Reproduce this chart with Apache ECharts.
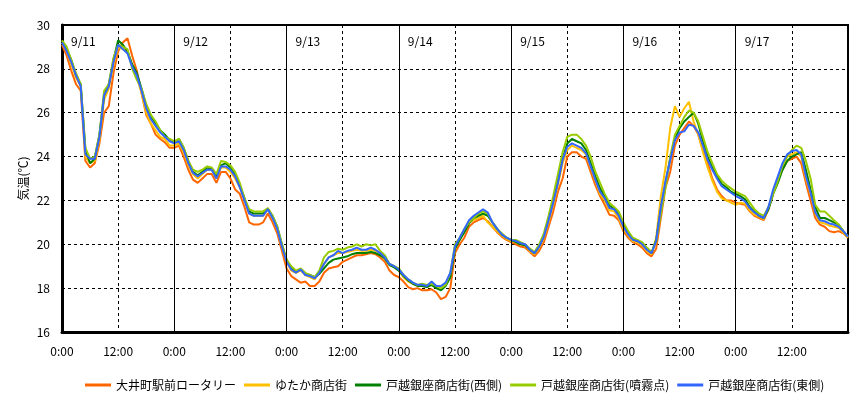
<!DOCTYPE html>
<html>
<head>
<meta charset="utf-8">
<script src="https://cdn.jsdelivr.net/npm/echarts@6/dist/echarts.min.js"></script>
<style>
  html, body { margin: 0; padding: 0; background: #fff; }
  #chart { width: 865px; height: 397px; }
</style>
</head>
<body>
<div id="chart"></div>
<script>
// hourly readings, 9/11 0:00 .. 9/18 0:00
const stepHours = 1;
const dayLabels = ['9/11', '9/12', '9/13', '9/14', '9/15', '9/16', '9/17'];
const seriesNames = ['大井町駅前ロータリー', 'ゆたか商店街', '戸越銀座商店街(西側)', '戸越銀座商店街(噴霧点)', '戸越銀座商店街(東側)'];
const seriesColors = ['#FF6600', '#FFC000', '#008000', '#99CC00', '#3366FF'];

const ooimachi = [
    29.1, 28.6, 27.9, 27.3, 27.0, 23.8, 23.5, 23.7, 24.6, 26.0, 26.3, 27.8, 28.8, 29.2, 29.4, 28.6, 27.9, 26.9, 25.9, 25.5, 25.0, 24.8, 24.65, 24.4,
    24.4, 24.5, 24.0, 23.4, 22.95, 22.8, 23.0, 23.2, 23.2, 22.8, 23.3, 23.3, 23.0, 22.5, 22.3, 21.7, 21.0, 20.9, 20.9, 21.0, 21.4, 21.0, 20.5, 19.7,
    18.9, 18.55, 18.4, 18.25, 18.3, 18.1, 18.1, 18.3, 18.7, 18.9, 18.95, 19.0, 19.2, 19.3, 19.4, 19.5, 19.5, 19.55, 19.6, 19.55, 19.4, 19.2, 18.8, 18.6,
    18.5, 18.3, 18.05, 17.95, 18.0, 17.9, 17.9, 17.95, 17.8, 17.5, 17.6, 18.0, 19.6, 20.0, 20.3, 20.8, 21.0, 21.1, 21.2, 21.05, 20.8, 20.55, 20.35, 20.2,
    20.1, 20.0, 19.9, 19.85, 19.65, 19.45, 19.7, 20.1, 20.8, 21.5, 22.4, 23.0, 24.0, 24.2, 24.2, 24.0, 23.9, 23.3, 22.7, 22.2, 21.8, 21.35, 21.3, 21.1,
    20.6, 20.3, 20.1, 20.0, 19.85, 19.6, 19.45, 19.8, 21.2, 22.6, 23.3, 24.5, 25.0, 25.3, 25.6, 25.4, 25.0, 24.3, 23.7, 23.0, 22.5, 22.2, 22.0, 22.0,
    21.9, 21.85, 21.8, 21.5, 21.3, 21.2, 21.1, 21.6, 22.3, 23.0, 23.4, 23.8, 23.9, 24.0, 23.7, 22.8, 22.0, 21.2, 20.9, 20.8, 20.6, 20.55, 20.6, 20.5,
    20.3
];
const yutaka = [
    29.2, 28.8, 28.2, 27.6, 27.2, 24.0, 23.7, 23.8, 24.8, 26.6, 27.1, 28.2, 29.0, 28.9, 28.8, 28.2, 27.6, 26.9, 26.0, 25.5, 25.2, 24.9, 24.8, 24.5,
    24.5, 24.6, 24.2, 23.6, 23.2, 23.0, 23.2, 23.4, 23.4, 23.0, 23.5, 23.5, 23.3, 23.0, 22.6, 22.0, 21.4, 21.3, 21.3, 21.3, 21.6, 21.2, 20.7, 19.9,
    19.2, 18.8, 18.7, 18.8, 18.6, 18.5, 18.4, 18.7, 19.1, 19.4, 19.5, 19.6, 19.6, 19.65, 19.7, 19.75, 19.7, 19.7, 19.75, 19.7, 19.6, 19.4, 19.1, 19.0,
    18.8, 18.5, 18.3, 18.2, 18.1, 18.1, 18.05, 18.2, 18.05, 18.0, 18.2, 18.6, 19.8, 20.2, 20.6, 21.0, 21.1, 21.2, 21.3, 21.0, 20.8, 20.6, 20.4, 20.25,
    20.15, 20.1, 20.0, 19.95, 19.7, 19.55, 19.85, 20.3, 21.0, 21.8, 22.7, 23.7, 24.3, 24.5, 24.4, 24.3, 24.1, 23.5, 22.9, 22.3, 22.0, 21.55, 21.5, 21.2,
    20.7, 20.4, 20.15, 20.1, 19.95, 19.7, 19.55, 20.3, 22.2, 23.5, 25.3, 26.3, 25.8, 26.2, 26.5, 25.6, 25.0, 24.2, 23.5, 22.9, 22.4, 22.1, 22.0, 21.9,
    21.8, 21.9, 21.85, 21.55, 21.35, 21.25, 21.15, 21.65, 22.4, 23.0, 23.6, 24.0, 24.1, 24.2, 24.0, 23.0, 22.3, 21.4, 21.0, 20.95, 20.85, 20.8, 20.75, 20.55,
    20.3
];
const togoshiWest = [
    29.3, 28.9, 28.4, 27.7, 27.3, 24.3, 23.7, 23.9, 25.0, 26.8, 27.3, 28.4, 29.3, 29.1, 28.8, 28.2, 27.8, 27.1, 26.3, 25.8, 25.5, 25.2, 25.0, 24.75,
    24.65, 24.8, 24.4, 23.8, 23.3, 23.15, 23.3, 23.5, 23.45, 23.1, 23.6, 23.7, 23.5, 23.2, 22.7, 22.1, 21.5, 21.4, 21.4, 21.4, 21.6, 21.3, 20.8, 20.0,
    19.3, 18.9, 18.75, 18.85, 18.65, 18.6, 18.5, 18.65, 18.9, 19.15, 19.3, 19.35, 19.4, 19.45, 19.55, 19.6, 19.6, 19.6, 19.65, 19.6, 19.5, 19.35, 19.05, 18.95,
    18.8, 18.55, 18.35, 18.2, 18.1, 18.1, 18.05, 18.15, 18.0, 17.9, 18.1, 18.5, 19.8, 20.2, 20.55, 20.95, 21.2, 21.3, 21.4, 21.3, 21.0, 20.7, 20.45, 20.3,
    20.2, 20.1, 20.0, 19.95, 19.75, 19.6, 19.9, 20.4, 21.2, 22.0, 22.9, 23.9, 24.6, 24.8, 24.7, 24.6, 24.3, 23.7, 23.1, 22.55, 22.2, 21.75, 21.65, 21.35,
    20.9, 20.5, 20.25, 20.15, 20.05, 19.8, 19.6, 20.2, 21.6, 22.8, 23.9, 24.8, 25.3, 25.6, 25.8, 26.0, 25.5, 24.7, 24.0, 23.5, 23.1, 22.75, 22.6, 22.4,
    22.3, 22.2, 22.05, 21.7, 21.5, 21.3, 21.2, 21.6, 22.3, 22.8, 23.4, 23.8, 24.0, 24.1, 24.2, 23.4, 22.5, 21.7, 21.2, 21.2, 21.1, 21.0, 20.9, 20.6,
    20.35
];
const togoshiMist = [
    29.3, 29.0, 28.4, 27.8, 27.3, 24.4, 23.9, 24.0, 25.0, 27.0, 27.3, 28.5, 29.1, 29.0, 28.9, 28.0, 27.5, 27.1, 26.4, 25.9, 25.6, 25.2, 24.9, 24.8,
    24.7, 24.8, 24.4, 23.8, 23.4, 23.3, 23.4, 23.55, 23.5, 23.2, 23.8, 23.75, 23.6, 23.3, 22.8, 22.1, 21.6, 21.5, 21.5, 21.5, 21.65, 21.3, 20.8, 20.0,
    19.3, 19.0, 18.8, 18.9, 18.7, 18.6, 18.5, 18.8, 19.4, 19.65, 19.7, 19.8, 19.75, 19.85, 19.9, 20.0, 19.9, 20.0, 19.95, 20.0, 19.7, 19.5, 19.1, 19.0,
    18.9, 18.6, 18.4, 18.25, 18.15, 18.2, 18.15, 18.2, 18.1, 18.0, 18.15, 18.7, 20.0, 20.3, 20.7, 21.0, 21.2, 21.4, 21.5, 21.4, 21.0, 20.7, 20.5, 20.3,
    20.2, 20.2, 20.1, 20.0, 19.8, 19.65, 20.0, 20.5, 21.3, 22.2, 23.2, 24.2, 24.9, 25.0, 25.0, 24.8, 24.5, 24.0, 23.3, 22.8, 22.3, 21.9, 21.7, 21.5,
    21.0, 20.6, 20.3, 20.2, 20.1, 19.85, 19.65, 20.1, 21.4, 22.6, 24.0, 25.0, 25.4, 25.8, 26.1, 26.0, 25.6, 24.9, 24.2, 23.7, 23.2, 22.9, 22.7, 22.55,
    22.4, 22.3, 22.2, 21.9, 21.6, 21.4, 21.3, 21.7, 22.3, 22.9, 23.6, 24.0, 24.3, 24.5, 24.4, 23.8, 23.0, 21.8, 21.5, 21.5, 21.3, 21.1, 20.9, 20.6,
    20.35
];
const togoshiEast = [
    29.2, 28.8, 28.3, 27.7, 27.2, 24.1, 23.9, 23.9, 24.9, 26.8, 27.2, 28.3, 29.1, 28.9, 28.7, 28.1, 27.7, 27.0, 26.2, 25.7, 25.4, 25.1, 24.9, 24.7,
    24.6, 24.7, 24.3, 23.7, 23.25, 23.1, 23.25, 23.4, 23.4, 23.0, 23.55, 23.55, 23.4, 23.1, 22.6, 22.0, 21.4, 21.3, 21.3, 21.3, 21.6, 21.2, 20.7, 19.9,
    19.2, 18.85, 18.7, 18.85, 18.6, 18.55, 18.45, 18.7, 19.1, 19.4, 19.5, 19.7, 19.6, 19.7, 19.75, 19.85, 19.75, 19.75, 19.85, 19.75, 19.6, 19.4, 19.1, 19.0,
    18.85, 18.6, 18.4, 18.25, 18.15, 18.15, 18.1, 18.3, 18.1, 18.1, 18.25, 18.7, 19.9, 20.3, 20.7, 21.1, 21.3, 21.45, 21.6, 21.45, 21.0, 20.7, 20.45, 20.3,
    20.2, 20.15, 20.05, 20.0, 19.75, 19.6, 19.9, 20.35, 21.1, 21.9, 22.8, 23.85, 24.45, 24.6, 24.5, 24.4, 24.15, 23.55, 22.95, 22.4, 22.1, 21.65, 21.6, 21.3,
    20.8, 20.45, 20.2, 20.15, 20.0, 19.75, 19.6, 20.15, 21.7, 22.9, 23.85, 24.75, 25.1, 25.15, 25.45, 25.4, 25.1, 24.5, 23.85, 23.4, 23.0, 22.65, 22.5, 22.35,
    22.2, 22.1, 21.95, 21.65, 21.45, 21.3, 21.2, 21.7, 22.5, 23.1, 23.7, 24.1, 24.25, 24.3, 24.1, 23.1, 22.35, 21.45, 21.1, 21.05, 20.95, 20.9, 20.8, 20.6,
    20.35
];
const allValues = [ooimachi, yutaka, togoshiWest, togoshiMist, togoshiEast];

const chart = echarts.init(document.getElementById('chart'));
const baseFont = '"Noto Sans CJK JP", "Noto Sans", sans-serif';
const totalHours = dayLabels.length * 24;

const lineSeries = allValues.map((vals, k) => ({
    name: seriesNames[k],
    type: 'line',
    data: vals.map((v, i) => [i * stepHours, v]),
    showSymbol: false,
    symbol: 'none',
    lineStyle: {width: 2, color: seriesColors[k]},
    itemStyle: {color: seriesColors[k]},
    z: 3
}));

// 日付の境界（実線）
const dayLines = {
    type: 'line',
    data: [],
    z: 1,
    silent: true,
    markLine: {
        silent: true,
        symbol: 'none',
        label: {show: false},
        lineStyle: {color: '#000', type: 'solid', width: 1},
        data: dayLabels.slice(1).map((d, i) => ({xAxis: (i + 1) * 24}))
    }
};

chart.setOption({
    animation: false,
    textStyle: {fontFamily: baseFont},
    grid: {
        left: 62, right: 17, top: 25, bottom: 65,
        show: true, borderColor: '#000', borderWidth: 2
    },
    legend: {
        left: 80,
        top: 374,
        itemWidth: 26,
        itemHeight: 3,
        itemGap: 8,
        icon: 'rect',
        textStyle: {fontSize: 12, color: '#000', fontFamily: baseFont},
        data: seriesNames
    },
    xAxis: {
        type: 'value',
        min: 0,
        max: totalHours,
        interval: 12,
        axisLine: {lineStyle: {color: '#000', width: 3}},
        axisTick: {show: false},
        axisLabel: {
            color: '#000', fontSize: 12, margin: 13,
            formatter: v => (v % 24 === 0 ? '0:00' : '12:00'),
            showMaxLabel: false
        },
        splitLine: {show: true, lineStyle: {color: '#000', type: [3, 3], width: 1}}
    },
    yAxis: {
        type: 'value',
        min: 16,
        max: 30,
        interval: 2,
        name: '気温(℃)',
        nameLocation: 'middle',
        nameRotate: 90,
        nameGap: 33,
        nameMoveOverlap: false,
        nameTextStyle: {color: '#000', fontSize: 12},
        axisLine: {show: true, lineStyle: {color: '#000', width: 3}},
        axisTick: {show: false},
        axisLabel: {color: '#000', fontSize: 12, margin: 12},
        splitLine: {show: true, lineStyle: {color: '#000', type: [3, 3], width: 1}}
    },
    series: [dayLines].concat(lineSeries)
});

// 日付ラベル
const labelY = chart.convertToPixel({yAxisIndex: 0}, 29.25);
chart.setOption({
    graphic: dayLabels.map((d, i) => ({
        type: 'text',
        x: chart.convertToPixel({xAxisIndex: 0}, i * 24) + 9,
        y: labelY,
        style: {text: d, fill: '#000', font: '12px ' + baseFont, textVerticalAlign: 'middle'},
        z: 10
    }))
});
</script>
</body>
</html>
